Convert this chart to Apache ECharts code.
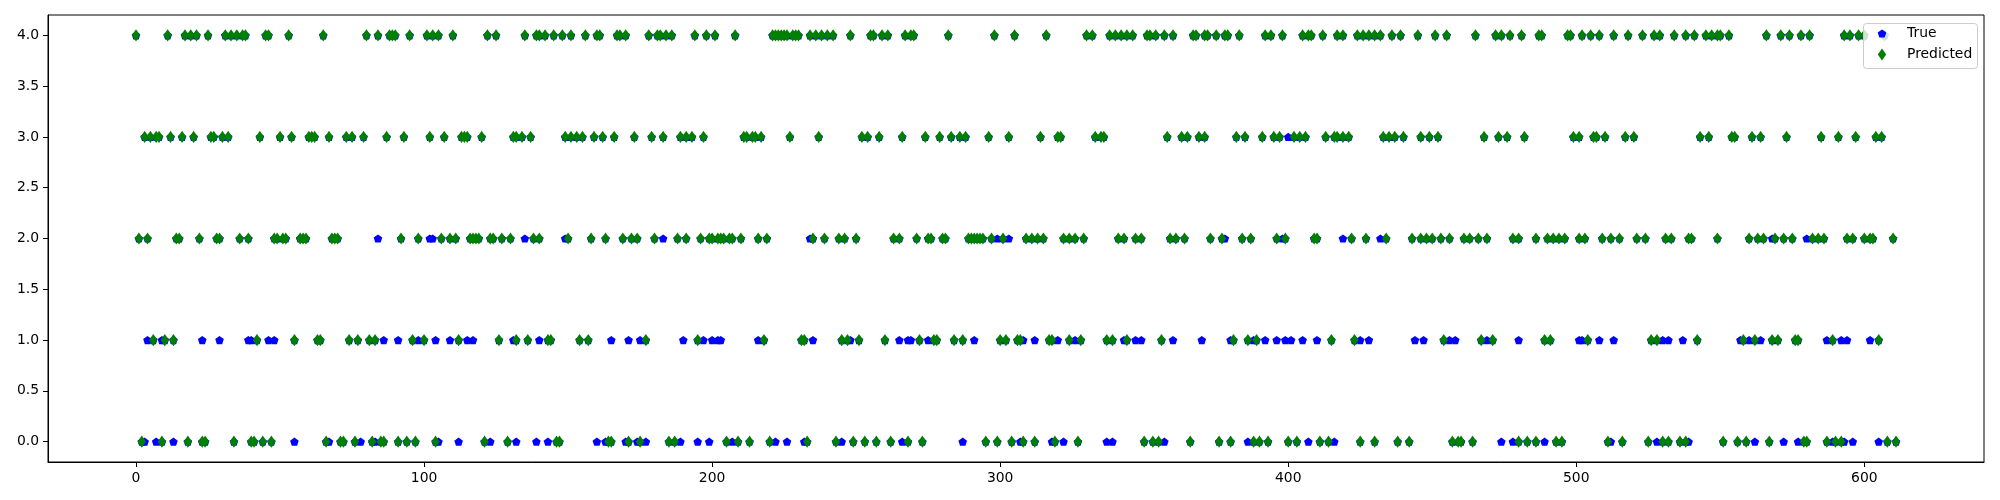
<!DOCTYPE html>
<html><head><meta charset="utf-8">
<script src="https://cdn.jsdelivr.net/npm/echarts@6/dist/echarts.min.js"></script>
<style>html,body{margin:0;padding:0;background:#fff}#c{width:2000px;height:500px}</style>
</head><body><div id="c"></div>
<script>
// ---- data (sample index, class) ----
const xTicks = [0, 100, 200, 300, 400, 500, 600];
const yTicks = [0, 0.5, 1, 1.5, 2, 2.5, 3, 3.5, 4];
const seriesNames = ['True', 'Predicted'];

// indices where the predicted class is 0..4
const pred0 = [2, 9, 18, 23, 24, 34, 40, 41, 44, 47, 66, 71, 72, 76, 82, 85, 86, 91, 94, 97, 104, 121, 129, 146, 147, 164, 165, 171, 175, 185, 187, 205, 209, 213, 220, 233, 243, 249, 253, 257, 262, 268, 273, 295, 299, 304, 308, 312, 319, 327, 350, 353, 355, 366, 376, 380, 388, 390, 393, 400, 403, 411, 414, 425, 430, 438, 442, 457, 459, 460, 464, 480, 483, 486, 493, 495, 511, 516, 525, 530, 532, 536, 538, 551, 556, 559, 567, 579, 580, 587, 590, 592, 608, 611];
const pred1 = [6, 10, 13, 42, 55, 63, 64, 74, 77, 81, 83, 96, 100, 112, 126, 132, 136, 143, 144, 154, 157, 177, 195, 218, 231, 232, 245, 247, 251, 260, 272, 277, 278, 284, 287, 300, 302, 306, 307, 317, 318, 324, 328, 337, 339, 344, 356, 381, 386, 389, 415, 423, 454, 467, 471, 489, 491, 504, 526, 528, 542, 558, 562, 568, 570, 576, 577, 589, 605];
const pred2 = [1, 4, 14, 15, 22, 28, 29, 36, 39, 48, 49, 51, 52, 57, 58, 59, 68, 69, 70, 92, 98, 106, 109, 111, 116, 117, 118, 119, 123, 124, 127, 130, 138, 140, 150, 158, 163, 169, 172, 174, 180, 188, 191, 196, 199, 200, 202, 203, 204, 206, 207, 210, 216, 219, 235, 239, 244, 246, 250, 263, 265, 271, 275, 276, 280, 281, 289, 290, 291, 292, 293, 294, 297, 301, 309, 311, 313, 315, 322, 324, 326, 329, 341, 343, 347, 349, 359, 361, 364, 373, 377, 384, 387, 396, 399, 409, 410, 422, 427, 434, 443, 446, 448, 450, 453, 456, 461, 463, 466, 469, 478, 480, 486, 490, 492, 494, 496, 501, 503, 509, 512, 515, 521, 524, 531, 533, 539, 540, 549, 560, 563, 565, 569, 572, 575, 582, 584, 586, 594, 596, 600, 602, 603, 610];
const pred3 = [3, 5, 7, 8, 12, 16, 20, 26, 27, 30, 32, 43, 50, 54, 60, 61, 62, 67, 73, 75, 79, 87, 93, 102, 107, 113, 114, 115, 120, 131, 132, 134, 137, 149, 151, 153, 155, 159, 162, 166, 173, 179, 183, 189, 191, 193, 197, 211, 212, 214, 215, 217, 227, 237, 252, 254, 258, 266, 274, 279, 283, 286, 288, 296, 303, 314, 320, 321, 333, 335, 336, 358, 363, 365, 369, 371, 382, 385, 391, 395, 397, 402, 404, 406, 413, 416, 417, 419, 421, 433, 435, 437, 440, 446, 449, 452, 468, 473, 476, 482, 499, 501, 506, 507, 510, 517, 520, 543, 546, 554, 555, 561, 564, 573, 585, 591, 597, 604, 606];
const pred4 = [0, 11, 17, 19, 21, 25, 31, 33, 35, 37, 38, 45, 46, 53, 65, 80, 84, 88, 89, 90, 95, 101, 103, 105, 110, 122, 125, 135, 139, 140, 142, 145, 148, 151, 156, 160, 161, 167, 168, 170, 178, 181, 182, 184, 186, 194, 198, 201, 208, 221, 222, 223, 224, 225, 226, 228, 229, 230, 234, 236, 238, 240, 242, 248, 255, 256, 259, 261, 267, 269, 270, 282, 298, 305, 316, 330, 332, 338, 340, 342, 344, 346, 351, 352, 354, 357, 360, 367, 368, 371, 372, 375, 378, 379, 383, 392, 394, 398, 405, 407, 408, 412, 417, 419, 424, 426, 428, 430, 432, 436, 439, 445, 451, 455, 465, 472, 474, 477, 481, 487, 488, 497, 498, 502, 505, 508, 513, 518, 523, 527, 529, 534, 538, 541, 545, 547, 549, 550, 553, 566, 571, 574, 578, 581, 593, 595, 598, 600, 607];

// indices where the true class differs from the prediction, by true class
const miss0 = [3, 7, 13, 55, 67, 78, 83, 105, 112, 123, 132, 139, 143, 160, 163, 170, 174, 177, 189, 195, 199, 207, 222, 226, 232, 245, 266, 287, 307, 318, 322, 337, 339, 357, 386, 407, 416, 474, 478, 489, 512, 528, 539, 562, 572, 577, 589, 593, 596, 605];
const miss1 = [4, 9, 23, 29, 39, 40, 46, 48, 86, 91, 98, 104, 109, 115, 117, 131, 140, 165, 171, 175, 190, 197, 200, 202, 203, 216, 235, 248, 265, 268, 269, 275, 291, 308, 312, 320, 326, 343, 347, 349, 360, 370, 380, 388, 392, 396, 399, 401, 405, 410, 425, 428, 444, 447, 456, 458, 469, 480, 501, 502, 508, 513, 530, 532, 537, 557, 560, 564, 587, 592, 594, 602];
const miss2 = [84, 102, 103, 135, 149, 183, 234, 299, 303, 378, 398, 419, 432, 568, 580];
const miss3 = [400];
const miss4 = [];

function pts(list, c) { return list.map(function (i) { return [i, c]; }); }
const predLists = [pred0, pred1, pred2, pred3, pred4];
const missLists = [miss0, miss1, miss2, miss3, miss4];
let predData = [];
predLists.forEach(function (l, c) { predData = predData.concat(pts(l, c)); });
let trueData = predData.slice();
missLists.forEach(function (l, c) { trueData = trueData.concat(pts(l, c)); });

const PENT = 'path://M0,-1L0.9511,-0.309L0.5878,0.809L-0.5878,0.809L-0.9511,-0.309Z';
const THIN = 'path://M0,-1.5L1,0L0,1.5L-1,0Z';
// legend icons: same shapes, with empty side points so the shape sits centred in a 40px-wide slot
const PENT_LEG = 'path://M-4.42,0L-4.42,0M4.42,0L4.42,0M0,-1L0.9511,-0.309L0.5878,0.809L-0.5878,0.809L-0.9511,-0.309Z';
const THIN_LEG = 'path://M-4.76,0L-4.76,0M4.76,0L4.76,0M0,-1.5L1,0L0,1.5L-1,0Z';
const FONT = 'DejaVu Sans';
const FS = 13.9;

const chart = echarts.init(document.getElementById('c'), null, { renderer: 'canvas' });
chart.setOption({
  animation: false,
  backgroundColor: '#ffffff',
  grid: { left: 48, right: 16, top: 15, bottom: 38, show: true, borderColor: '#000', borderWidth: 1, containLabel: false },
  xAxis: {
    type: 'value', min: -30.55, max: 641.55,
    axisLine: { show: true, onZero: false, lineStyle: { color: '#000', width: 1 } },
    splitLine: { show: false },
    axisTick: { show: true, inside: false, customValues: xTicks, length: 5, lineStyle: { color: '#000', width: 1 } },
    axisLabel: { customValues: xTicks, margin: 9, color: '#000', fontSize: FS, fontFamily: FONT }
  },
  yAxis: {
    type: 'value', min: -0.2, max: 4.2,
    axisLine: { show: true, onZero: false, lineStyle: { color: '#000', width: 1 } },
    splitLine: { show: false },
    axisTick: { show: true, inside: false, customValues: yTicks, length: 5, lineStyle: { color: '#000', width: 1 } },
    axisLabel: { customValues: yTicks, margin: 9, color: '#000', fontSize: FS, fontFamily: FONT,
      formatter: function (v) { return Number(v).toFixed(1); } }
  },
  legend: [
    { data: [{ name: seriesNames[0], icon: PENT_LEG }], left: 1862, top: 26.5, orient: 'vertical', padding: 0,
      itemWidth: 40, itemHeight: 8.2, symbolKeepAspect: false, selectedMode: false,
      textStyle: { fontSize: FS, fontFamily: FONT, color: '#000' } },
    { data: [{ name: seriesNames[1], icon: THIN_LEG }], left: 1862, top: 47.5, orient: 'vertical', padding: 0,
      itemWidth: 40, itemHeight: 12.2, symbolKeepAspect: false, selectedMode: false,
      textStyle: { fontSize: FS, fontFamily: FONT, color: '#000' } }
  ],
  graphic: [
    { type: 'rect', z: 3, silent: true,
      shape: { x: 1863.5, y: 23.5, width: 114, height: 45, r: 3 },
      style: { fill: 'rgba(255,255,255,0.8)', stroke: '#cccccc', lineWidth: 1 } }
  ],
  series: [
    { name: seriesNames[0], type: 'scatter', data: trueData, symbol: PENT, symbolSize: [8.6, 8.2],
      itemStyle: { color: '#0000ff', opacity: 1 }, z: 2 },
    { name: seriesNames[1], type: 'scatter', data: predData, symbol: THIN, symbolSize: [8.4, 12.2],
      itemStyle: { color: '#008000', opacity: 1 }, z: 2 }
  ]
});
</script>
</body></html>
